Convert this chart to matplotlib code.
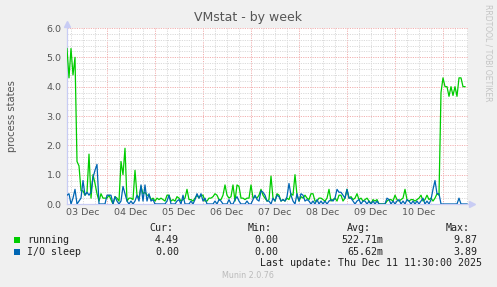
import numpy as np
import matplotlib
matplotlib.use("Agg")
import matplotlib.pyplot as plt
from matplotlib.patches import Rectangle

# hourly samples starting 03 Dec 04:00
running = [
    5.3, 4.3, 5.3, 4.4, 5.0, 1.45, 1.3, 0.45, 0.45, 0.3,
    0.4, 1.7, 0.2, 1.0, 0.7, 0.35, 0.1, 0.35, 0.2, 0.2,
    0.2, 0.3, 0.15, 0.0, 0.25, 0.2, 0.1, 1.45, 1.0, 1.9,
    0.1, 0.2, 0.2, 0.15, 1.15, 0.3, 0.2, 0.6, 0.35, 0.4,
    0.3, 0.3, 0.15, 0.2, 0.1, 0.2, 0.15, 0.2, 0.15, 0.1,
    0.3, 0.3, 0.1, 0.15, 0.1, 0.25, 0.2, 0.1, 0.15, 0.2,
    0.5, 0.15, 0.15, 0.1, 0.2, 0.3, 0.2, 0.3, 0.3, 0.1,
    0.1, 0.2, 0.2, 0.25, 0.35, 0.3, 0.15, 0.15, 0.3, 0.65,
    0.3, 0.2, 0.25, 0.65, 0.1, 0.65, 0.6, 0.2, 0.2, 0.15,
    0.2, 0.2, 0.65, 0.2, 0.25, 0.2, 0.3, 0.5, 0.3, 0.2,
    0.1, 0.15, 0.95, 0.2, 0.1, 0.35, 0.3, 0.1, 0.15, 0.1,
    0.2, 0.15, 0.35, 0.3, 1.0, 0.3, 0.1, 0.25, 0.2, 0.3,
    0.2, 0.15, 0.35, 0.35, 0.1, 0.1, 0.2, 0.2, 0.15, 0.1,
    0.2, 0.5, 0.1, 0.15, 0.2, 0.1, 0.3, 0.3, 0.1, 0.2,
    0.5, 0.2, 0.25, 0.15, 0.2, 0.35, 0.15, 0.2, 0.1, 0.15,
    0.2, 0.1, 0.0, 0.15, 0.1, 0.15, 0.0, 0.0, 0.0, 0.0,
    0.1, 0.15, 0.15, 0.1, 0.3, 0.15, 0.1, 0.15, 0.2, 0.5,
    0.15, 0.1, 0.15, 0.15, 0.1, 0.15, 0.2, 0.3, 0.1, 0.15,
    0.3, 0.15, 0.2, 0.1, 0.2, 0.35, 0.3, 3.8, 4.3, 4.0,
    4.0, 3.67, 4.0, 3.7, 4.0, 3.67, 4.3, 4.3, 4.0, 4.0,
    np.nan,
]
io_sleep = [
    0.3, 0.35, 0.0, 0.2, 0.5, 0.0, 0.1, 0.2, 0.8, 0.3,
    0.4, 0.3, 0.4, 0.9, 1.15, 1.35, 0.0, 0.0, 0.0, 0.0,
    0.3, 0.3, 0.3, 0.0, 0.25, 0.1, 0.0, 0.1, 0.6, 0.35,
    0.1, 0.0, 0.1, 0.0, 0.1, 0.3, 0.1, 0.65, 0.1, 0.65,
    0.1, 0.35, 0.1, 0.15, 0.0, 0.0, 0.0, 0.0, 0.0, 0.0,
    0.1, 0.3, 0.0, 0.0, 0.0, 0.1, 0.15, 0.0, 0.3, 0.0,
    0.0, 0.0, 0.1, 0.0, 0.15, 0.35, 0.2, 0.35, 0.1, 0.2,
    0.0, 0.0, 0.0, 0.0, 0.1, 0.0, 0.15, 0.1, 0.0, 0.0,
    0.0, 0.15, 0.0, 0.0, 0.15, 0.25, 0.1, 0.0, 0.0, 0.0,
    0.1, 0.0, 0.0, 0.15, 0.3, 0.15, 0.1, 0.45, 0.4, 0.3,
    0.1, 0.1, 0.0, 0.2, 0.1, 0.3, 0.25, 0.1, 0.15, 0.1,
    0.25, 0.7, 0.3, 0.1, 0.0, 0.35, 0.1, 0.35, 0.3, 0.1,
    0.15, 0.1, 0.0, 0.1, 0.0, 0.15, 0.0, 0.1, 0.0, 0.1,
    0.0, 0.1, 0.15, 0.1, 0.2, 0.5, 0.4, 0.4, 0.3, 0.2,
    0.5, 0.2, 0.2, 0.1, 0.0, 0.1, 0.15, 0.0, 0.1, 0.1,
    0.0, 0.1, 0.0, 0.1, 0.0, 0.1, 0.0, 0.0, 0.0, 0.0,
    0.2, 0.15, 0.0, 0.1, 0.0, 0.1, 0.15, 0.0, 0.1, 0.0,
    0.15, 0.1, 0.0, 0.1, 0.0, 0.1, 0.0, 0.1, 0.2, 0.0,
    0.1, 0.0, 0.15, 0.5, 0.8, 0.35, 0.35, 0.0, 0.0, 0.0,
    0.0, 0.0, 0.0, 0.0, 0.0, 0.0, 0.2, 0.0, 0.0, 0.0,
    0.0,
]
day_labels = ["03 Dec", "04 Dec", "05 Dec", "06 Dec", "07 Dec", "08 Dec", "09 Dec", "10 Dec"]
series_names = ["running", "I/O sleep"]
series_colors = ["#00cc00", "#0066b3"]
cur_vals = ["4.49", "0.00"]
min_vals = ["0.00", "0.00"]
avg_vals = ["522.71m", "65.62m"]
max_vals = ["9.87", "3.89"]

W, H = 497, 287
MONO = "DejaVu Sans Mono"

def fx(x):
    return x / W

def fy(y):
    return 1 - y / H

start = np.datetime64("2025-12-03T04:00")
times = start + np.arange(len(running)) * np.timedelta64(60, "m")
end = start + np.timedelta64(401 * 30, "m")

fig = plt.figure(figsize=(W / 100, H / 100), dpi=100, facecolor="#f0f0f0")
ax = fig.add_axes([fx(67), fy(204), 401 / W, 176 / H])
ax.set_facecolor("white")

# grid: grey every 6h / 0.2, red every day / 1.0
for t in np.arange(np.datetime64("2025-12-03T06:00"), end, np.timedelta64(6, "h")):
    major = (t - np.datetime64("2025-12-03T00:00")) % np.timedelta64(24, "h") == np.timedelta64(0, "h")
    ax.axvline(t, color="#f2b0b0" if major else "#dadada", lw=0.7, ls=(0, (1.2, 1.2)), zorder=0)
for k in range(1, 31):
    v = k * 0.2
    major = k % 5 == 0
    ax.axhline(v, color="#f2b0b0" if major else "#dadada", lw=0.7, ls=(0, (1.2, 1.2)), zorder=0)

ax.plot(times, running, color=series_colors[0], lw=0.9, zorder=3)
ax.plot(times, io_sleep, color=series_colors[1], lw=0.9, zorder=4)

ax.set_xlim(start, end)
ax.set_ylim(0, 6.0)

noon = np.datetime64("2025-12-03T12:00") + np.arange(len(day_labels)) * np.timedelta64(24, "h")
ax.set_xticks(noon, day_labels)
ax.set_yticks(np.arange(0, 7), ["%.1f" % v for v in range(7)])
ax.tick_params(length=0, labelsize=6.8, labelcolor="#555555")
ax.tick_params(axis="x", pad=3)
ax.tick_params(axis="y", pad=4)

for s in ["top", "right"]:
    ax.spines[s].set_visible(False)
for s in ["left", "bottom"]:
    ax.spines[s].set_color("#c8ccf4")
    ax.spines[s].set_linewidth(0.9)
ax.plot([0], [1.02], marker="^", ms=4, color="#c8ccf4", transform=ax.transAxes, clip_on=False)
ax.plot([1.01], [0], marker=">", ms=4, color="#c8ccf4", transform=ax.transAxes, clip_on=False)

fig.text(fx(248), fy(17), "VMstat - by week", ha="center", va="center", fontsize=9, color="#555555")
fig.text(fx(12), fy(116), "process states", rotation=90, ha="center", va="center", fontsize=7.2, color="#555555")
fig.text(fx(488), fy(53), "RRDTOOL / TOBI OETIKER", rotation=270, ha="center", va="center",
         fontsize=5.5, color="#c4c4c4")

# legend table
header_y = 228
fig.text(fx(173), fy(header_y), "Cur:", ha="right", va="center", fontsize=7.2, family=MONO, color="#222222")
fig.text(fx(272), fy(header_y), "Min:", ha="right", va="center", fontsize=7.2, family=MONO, color="#222222")
fig.text(fx(371), fy(header_y), "Avg:", ha="right", va="center", fontsize=7.2, family=MONO, color="#222222")
fig.text(fx(470), fy(header_y), "Max:", ha="right", va="center", fontsize=7.2, family=MONO, color="#222222")
for i, name in enumerate(series_names):
    yy = 240 + 12 * i
    fig.patches.append(Rectangle((fx(14), fy(yy + 3)), 6 / W, 6 / H, transform=fig.transFigure,
                                 facecolor=series_colors[i], edgecolor="none"))
    fig.text(fx(27), fy(yy), name, ha="left", va="center", fontsize=7.2, family=MONO, color="#222222")
    fig.text(fx(179), fy(yy), cur_vals[i], ha="right", va="center", fontsize=7.2, family=MONO, color="#222222")
    fig.text(fx(278), fy(yy), min_vals[i], ha="right", va="center", fontsize=7.2, family=MONO, color="#222222")
    fig.text(fx(383), fy(yy), avg_vals[i], ha="right", va="center", fontsize=7.2, family=MONO, color="#222222")
    fig.text(fx(477), fy(yy), max_vals[i], ha="right", va="center", fontsize=7.2, family=MONO, color="#222222")

fig.text(fx(482), fy(263), "Last update: Thu Dec 11 11:30:00 2025", ha="right", va="center",
         fontsize=7.2, family=MONO, color="#222222")
fig.text(fx(248), fy(276), "Munin 2.0.76", ha="center", va="center", fontsize=5.8, color="#bbbbbb")

fig.savefig("out.png", dpi=100, facecolor=fig.get_facecolor())
